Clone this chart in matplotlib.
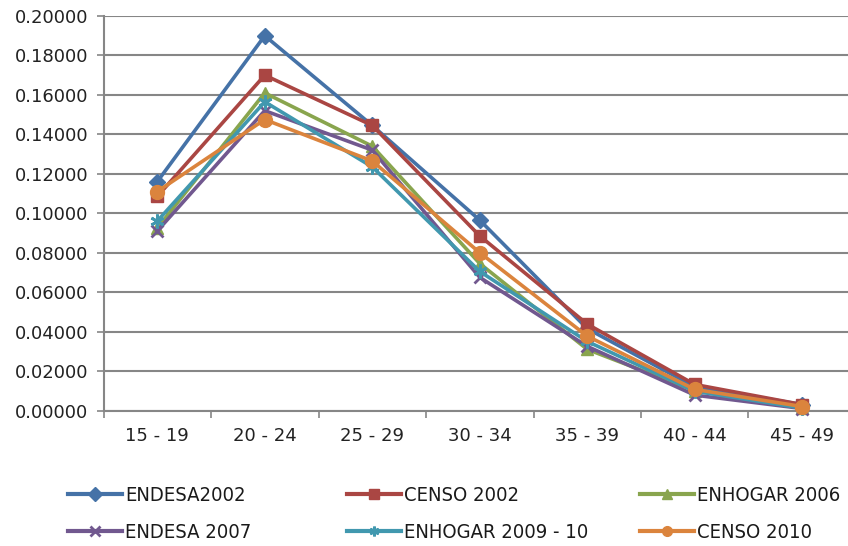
import matplotlib
matplotlib.use("Agg")
import matplotlib.pyplot as plt
import numpy as np

categories = ["15 - 19", "20 - 24", "25 - 29", "30 - 34", "35 - 39", "40 - 44", "45 - 49"]
endesa_2002 = [0.1160, 0.1900, 0.1445, 0.0965, 0.0415, 0.0120, 0.0030]
censo_2002 = [0.1085, 0.1700, 0.1445, 0.0885, 0.0438, 0.0132, 0.0030]
enhogar_2006 = [0.0925, 0.1610, 0.1340, 0.0745, 0.0310, 0.0100, 0.0012]
endesa_2007 = [0.0910, 0.1520, 0.1320, 0.0675, 0.0325, 0.0078, 0.0010]
enhogar_2009 = [0.0960, 0.1565, 0.1235, 0.0705, 0.0350, 0.0098, 0.0012]
censo_2010 = [0.1110, 0.1475, 0.1265, 0.0800, 0.0377, 0.0107, 0.0020]

series = [
    ("ENDESA2002", endesa_2002, "#4572A7", "D", 8),
    ("CENSO 2002", censo_2002, "#AA4643", "s", 8),
    ("ENHOGAR 2006", enhogar_2006, "#89A54E", "^", 9),
    ("ENDESA 2007", endesa_2007, "#71588F", "x", 9),
    ("ENHOGAR 2009 - 10", enhogar_2009, "#4198AF", (6, 2, 0), 10),
    ("CENSO 2010", censo_2010, "#DB843D", "o", 10),
]

W, H = 848, 546
fig = plt.figure(figsize=(W / 100, H / 100), dpi=100)
ax = fig.add_axes([103.5 / W, (H - 410.5) / H, (W - 103.5) / W, (410.5 - 16) / H])

x = np.arange(len(categories))
handles = {}
for name, vals, col, mk, ms in series:
    (ln,) = ax.plot(x, vals, color=col, lw=2.6, marker=mk, markersize=ms,
                    markeredgewidth=2 if mk in ("x", (6, 2, 0)) else 1,
                    markeredgecolor=col, markerfacecolor=col, label=name, zorder=3,
                    clip_on=False)
    handles[name] = ln

ax.set_xlim(-0.5, -0.5 + 744.5 / 107.5)
ax.set_ylim(0, 0.2)
ax.set_yticks(np.arange(0, 0.2001, 0.02))
ax.set_yticklabels([f"{v:.5f}" for v in np.arange(0, 0.2001, 0.02)])
ax.set_xticks(x)
ax.set_xticklabels(categories)
ax.set_xticks(np.arange(-0.5, 6.5, 1), minor=True)
ax.tick_params(axis="x", which="major", length=0, pad=12)
ax.tick_params(axis="x", which="minor", length=5, color="#868686", width=1.2)
ax.tick_params(axis="y", length=5, color="#868686", width=1.2, pad=6)
for lab in ax.get_xticklabels() + ax.get_yticklabels():
    lab.set_fontsize(13)
    lab.set_color("#222222")
ax.grid(axis="y", color="#868686", lw=1.5, zorder=0)
for s in ["top", "right"]:
    ax.spines[s].set_visible(False)
for s in ["left", "bottom"]:
    ax.spines[s].set_color("#868686")
    ax.spines[s].set_linewidth(1.5)

cols = [(["ENDESA2002", "ENDESA 2007"], 68),
        (["CENSO 2002", "ENHOGAR 2009 - 10"], 347),
        (["ENHOGAR 2006", "CENSO 2010"], 640)]
for names, xpix in cols:
    hl = []
    for n in names:
        h = handles[n]
        (proxy,) = ax.plot([], [], color=h.get_color(), lw=3, marker=h.get_marker(),
                           markersize=7, markeredgewidth=h.get_markeredgewidth(),
                           markerfacecolor=h.get_color(), markeredgecolor=h.get_color())
        hl.append(proxy)
    fig.legend(hl, names, loc="center left",
               bbox_to_anchor=(xpix / W, 1 - 514 / H), frameon=False,
               borderpad=0, borderaxespad=0, handlelength=2.7,
               handletextpad=0.12, labelspacing=0.85,
               labelcolor="#1a1a1a",
               prop={"family": "DejaVu Sans", "stretch": "condensed", "size": 14.5})

fig.savefig("out.png", dpi=100)
